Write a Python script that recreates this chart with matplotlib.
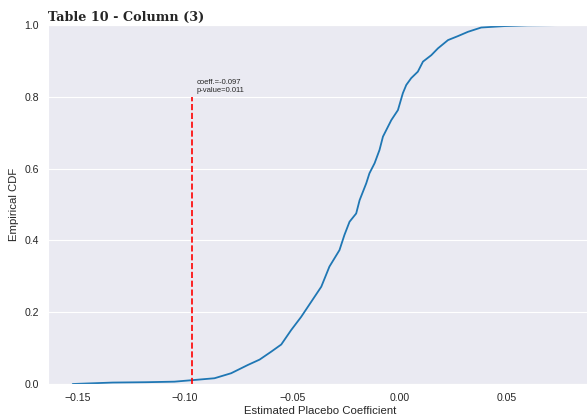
import matplotlib
matplotlib.use("Agg")
import matplotlib.pyplot as plt
import seaborn as sns

# Placebo coefficient distribution (empirical CDF sample points)
coef_values = [-0.1525, -0.1338, -0.1182, -0.1050, -0.0961, -0.0863, -0.0785,
               -0.0707, -0.0652, -0.0598, -0.0551, -0.0505, -0.0458, -0.0411,
               -0.0364, -0.0326, -0.0279, -0.0256, -0.0232, -0.0201, -0.0185,
               -0.0154, -0.0139, -0.0115, -0.0092, -0.0076, -0.0037, -0.0006,
               0.0017, 0.0033, 0.0056, 0.0087, 0.0111, 0.0150, 0.0181, 0.0228,
               0.0274, 0.0321, 0.0383, 0.0492, 0.0600, 0.0785]
cdf_values = [0.000, 0.004, 0.005, 0.0065, 0.011, 0.016, 0.030,
              0.053, 0.068, 0.090, 0.110, 0.150, 0.187, 0.229,
              0.271, 0.327, 0.373, 0.415, 0.452, 0.475, 0.512,
              0.559, 0.587, 0.615, 0.652, 0.689, 0.735, 0.763,
              0.810, 0.833, 0.852, 0.870, 0.898, 0.916, 0.935, 0.958,
              0.969, 0.981, 0.993, 0.997, 0.999, 1.000]

# Actual estimate and its placebo p-value
actual_coef = -0.097
p_value = 0.011
title = "Table 10 - Column (3)"
x_ticks = [-0.15, -0.10, -0.05, 0.00, 0.05]
y_ticks = [0.0, 0.2, 0.4, 0.6, 0.8, 1.0]

sns.set_style("darkgrid")
plt.rcParams["font.family"] = ["Liberation Sans", "DejaVu Sans"]

fig = plt.figure(figsize=(5.87, 4.16), dpi=100)
ax = fig.add_axes([48 / 587, 32 / 416, 544 / 587, 359 / 416])

ax.plot(coef_values, cdf_values, color="#1f77b4", lw=1.3)
ax.vlines(actual_coef, 0, 0.8, colors="red", linestyles="--", lw=1.2)
ax.text(actual_coef + 0.0025, 0.808,
        f"coeff.={actual_coef}\np-value={p_value}",
        fontsize=5.5, color="#262626", va="bottom", ha="left")

ax.set_ylim(0, 1)
span = coef_values[-1] - coef_values[0]
ax.set_xlim(coef_values[0] - 0.05 * span, coef_values[-1] + 0.05 * span)
ax.set_xticks(x_ticks)
ax.set_yticks(y_ticks)
ax.grid(axis="x", visible=False)
ax.tick_params(labelsize=7.6, colors="#262626", pad=3)

ax.set_xlabel("Estimated Placebo Coefficient", fontsize=8.2, color="#262626", labelpad=2)
ax.set_ylabel("Empirical CDF", fontsize=8.2, color="#262626", labelpad=4)
ax.set_title(title, loc="left", fontsize=9.2, fontweight="bold",
             family="DejaVu Serif", color="#262626", pad=3)

fig.savefig("out.png", dpi=100)
